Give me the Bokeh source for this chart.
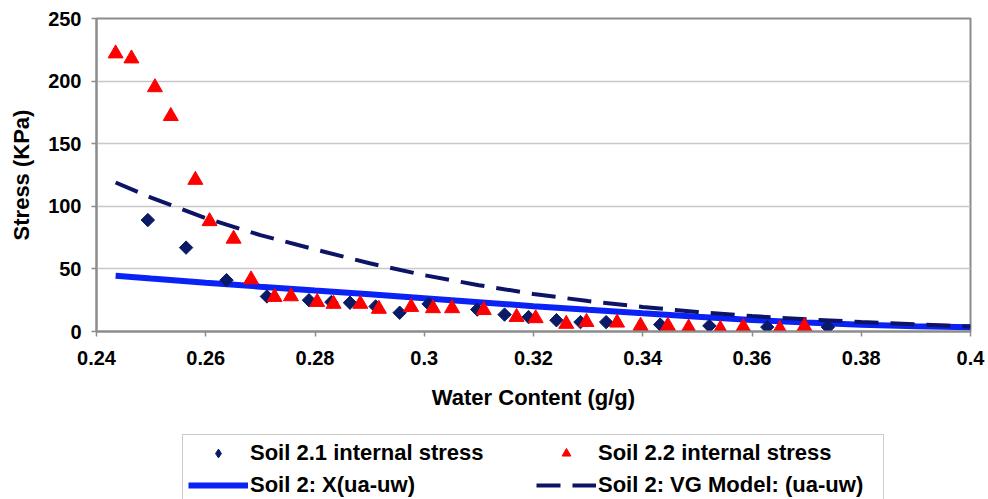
import numpy as np
from bokeh.plotting import figure
from bokeh.layouts import column
from bokeh.models import FixedTicker, Legend, LegendItem
from bokeh.embed import file_html
from bokeh.resources import INLINE

# ---- data ----
x_ticks = [0.24, 0.26, 0.28, 0.30, 0.32, 0.34, 0.36, 0.38, 0.40]
x_tick_labels = ["0.24", "0.26", "0.28", "0.3", "0.32", "0.34", "0.36", "0.38", "0.4"]
y_ticks = [0, 50, 100, 150, 200, 250]
y_tick_labels = ["0", "50", "100", "150", "200", "250"]

soil21_wc = [0.2494, 0.2564, 0.2638, 0.2712, 0.2789, 0.2830, 0.2864, 0.2911, 0.2955, 0.3008,
             0.3097, 0.3147, 0.3191, 0.3242, 0.3286, 0.3333, 0.3432, 0.3522, 0.3628, 0.3739]
soil21_stress = [89, 67, 41, 28, 25, 23.5, 23, 20, 15, 22,
                 17.5, 13.5, 11.5, 9, 7.5, 7.5, 5.5, 4.5, 3.5, 3.5]

soil22_wc = [0.2435, 0.2464, 0.2507, 0.2536, 0.2581, 0.2607, 0.2651, 0.2683, 0.2726, 0.2756,
             0.2804, 0.2834, 0.2883, 0.2917, 0.2976, 0.3016, 0.3051, 0.3109, 0.3169, 0.3204,
             0.3260, 0.3297, 0.3353, 0.3396, 0.3446, 0.3484, 0.3542, 0.3584, 0.3651, 0.3696]
soil22_stress = [222, 218, 195, 172, 121, 88, 74, 41.5, 27.5, 28,
                 23.5, 22, 22, 18, 19.5, 18.5, 18.5, 17, 11.5, 10.5,
                 6, 7.5, 7, 4.5, 4.5, 3, 2, 3.5, 2, 4]

x_model_wc = [0.2435, 0.25, 0.26, 0.27, 0.28, 0.29, 0.30, 0.31, 0.32, 0.33, 0.34,
              0.35, 0.36, 0.37, 0.38, 0.39, 0.40]
x_model_stress = [44.5, 42.3, 39.0, 35.8, 32.7, 29.7, 26.6, 23.4, 20.2, 17.3, 14.5,
                  11.8, 9.2, 7.1, 5.4, 4.2, 3.3]

vg_model_wc = [0.2435, 0.25, 0.26, 0.27, 0.28, 0.29, 0.30, 0.31, 0.32, 0.33, 0.34,
               0.35, 0.36, 0.37, 0.38, 0.39, 0.40]
vg_model_stress = [119, 107, 90.5, 77, 65.5, 54.5, 45, 37, 30, 24.3, 19.6,
                   15.6, 12.3, 9.7, 7.6, 5.7, 4.0]

legend_labels = ["Soil 2.1 internal stress", "Soil 2.2 internal stress",
                 "Soil 2: X(ua-uw)", "Soil 2: VG Model: (ua-uw)"]

FONT = "Liberation Sans"
NAVY = "#0b1a66"
RED = "#ff0000"
BLUE = "#0a22f5"
DASH = "#0d1466"

p = figure(frame_width=874, frame_height=313,
           x_range=(0.24, 0.40), y_range=(0, 250),
           output_backend="svg", toolbar_location=None,
           min_border_left=96, min_border_right=18, min_border_top=18,
           min_border_bottom=101)

p.background_fill_color = "white"
p.border_fill_color = "white"
p.outline_line_color = "#8c8c8c"
p.outline_line_width = 2

# grid
p.xgrid.grid_line_color = None
p.ygrid.grid_line_color = "#c8c8c8"
p.ygrid.grid_line_width = 1.5
p.ygrid.ticker = FixedTicker(ticks=y_ticks)

# axes
p.xaxis.ticker = FixedTicker(ticks=x_ticks)
p.xaxis.major_label_overrides = {t: l for t, l in zip(x_ticks, x_tick_labels)}
p.yaxis.ticker = FixedTicker(ticks=y_ticks)
p.yaxis.major_label_overrides = {t: l for t, l in zip(y_ticks, y_tick_labels)}

for ax in (p.xaxis, p.yaxis):
    ax.axis_line_color = "#8c8c8c"
    ax.axis_line_width = 2
    ax.major_tick_line_color = "#8c8c8c"
    ax.major_tick_line_width = 1.5
    ax.major_tick_out = 5
    ax.major_tick_in = 0
    ax.minor_tick_line_color = None
    ax.major_label_text_font = FONT
    ax.major_label_text_font_style = "bold"
    ax.major_label_text_font_size = "20px"
    ax.major_label_text_color = "black"
    ax.axis_label_text_font = FONT
    ax.axis_label_text_font_style = "bold"
    ax.axis_label_text_font_size = "22px"
    ax.axis_label_text_color = "black"

p.xaxis.axis_label = "Water Content (g/g)"
p.yaxis.axis_label = "Stress (KPa)"
p.xaxis.major_label_standoff = 14
p.yaxis.major_label_standoff = 10
p.xaxis.axis_label_standoff = 17
p.yaxis.axis_label_standoff = 11

# renderers
p.line(x_model_wc, x_model_stress, line_color=BLUE, line_width=6)
p.line(vg_model_wc, vg_model_stress, line_color=DASH, line_width=4, line_dash="24 12")
p.scatter(soil21_wc, soil21_stress, marker="square", angle=np.pi / 4,
          size=9.5, fill_color=NAVY, line_color=NAVY)
p.scatter(soil22_wc, soil22_stress, marker="triangle", size=15,
          fill_color=RED, line_color=RED)

# ---- legend panel (separate figure below the chart) ----
lg = figure(width=988, height=67, x_range=(0, 1), y_range=(0, 1),
            output_backend="svg", toolbar_location=None,
            x_axis_type=None, y_axis_type=None,
            min_border_left=0, min_border_right=0, min_border_top=0, min_border_bottom=0)
lg.outline_line_color = None
lg.xgrid.grid_line_color = None
lg.ygrid.grid_line_color = None
lg.background_fill_color = "white"
lg.border_fill_color = "white"

# proxy renderers placed outside the visible range (only used for legend glyphs)
d1 = lg.scatter([-5], [-5], marker="diamond", size=16,
                fill_color=NAVY, line_color=NAVY)
d2 = lg.scatter([-5], [-5], marker="triangle", size=16, fill_color=RED, line_color=RED)
d3 = lg.line([-5, -4], [-5, -5], line_color=BLUE, line_width=6)
d4 = lg.line([-5, -4], [-5, -5], line_color=DASH, line_width=4, line_dash="24 12")

legend = Legend(items=[
    LegendItem(label=legend_labels[0], renderers=[d1]),
    LegendItem(label=legend_labels[2], renderers=[d3]),
    LegendItem(label=legend_labels[1], renderers=[d2]),
    LegendItem(label=legend_labels[3], renderers=[d4]),
], ncols=2, location=(86, -5))
legend.glyph_width = 60
legend.glyph_height = 22
legend.label_height = 22
legend.label_width = 280
legend.label_standoff = 2
legend.spacing = 6
legend.padding = 5
legend.margin = 0
legend.label_text_font = FONT
legend.label_text_font_style = "bold"
legend.label_text_font_size = "22px"
legend.label_text_color = "black"
legend.border_line_color = "#9a9a9a"
legend.border_line_width = 1.5
legend.background_fill_color = "white"
legend.background_fill_alpha = 1.0
lg.add_layout(legend, "center")

layout = column(p, lg, spacing=0)
open("out.html", "w").write(file_html(layout, INLINE))
